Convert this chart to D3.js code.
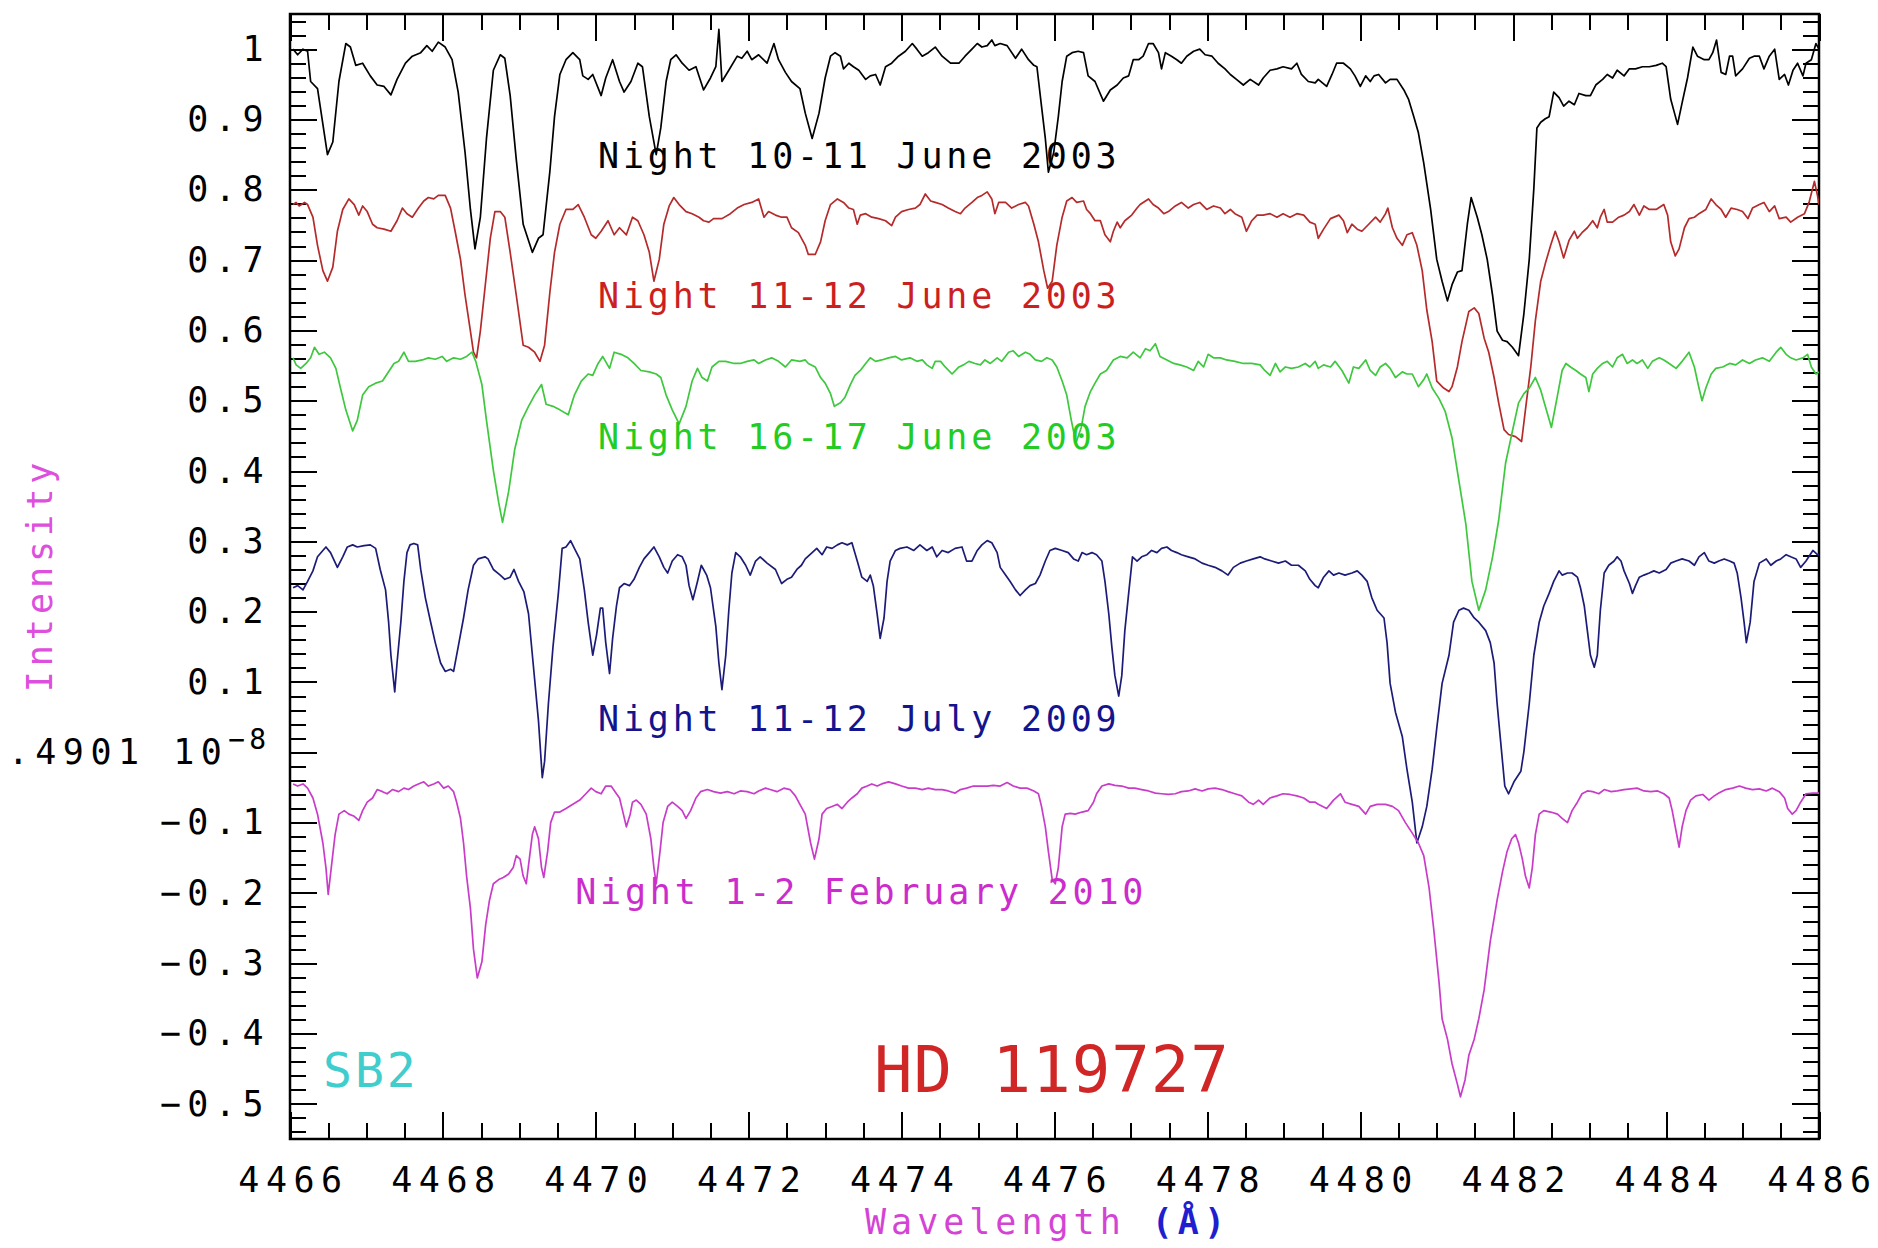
<!DOCTYPE html>
<html>
<head>
<meta charset="utf-8" />
<title>HD 119727</title>
<script src="https://d3js.org/d3.v7.min.js"></script>
<style>
  body { margin: 0; background: #fff; }
  svg { display: block; }
  .lbl { font-family: "DejaVu Sans Mono", monospace; }
  .axis line { stroke: #000; stroke-width: 2px; shape-rendering: crispEdges; }
  .axis path { display: none; }
</style>
</head>
<body>
<script>
// spectra: [wavelength (A), intensity]
var june1011 = [[4466.04,1.000],[4466.10,0.992],[4466.17,1.000],[4466.23,0.997],[4466.27,0.954],[4466.36,0.944],[4466.49,0.850],[4466.56,0.868],[4466.64,0.954],[4466.73,1.008],[4466.79,1.003],[4466.86,0.977],[4466.95,0.980],[4467.05,0.962],[4467.14,0.949],[4467.23,0.947],[4467.32,0.935],[4467.40,0.957],[4467.51,0.980],[4467.60,0.990],[4467.71,0.995],[4467.79,1.005],[4467.86,0.997],[4467.94,1.010],[4468.03,1.003],[4468.12,0.985],[4468.20,0.939],[4468.29,0.853],[4468.36,0.772],[4468.42,0.716],[4468.49,0.761],[4468.57,0.873],[4468.66,0.970],[4468.75,0.992],[4468.81,0.987],[4468.88,0.934],[4468.96,0.843],[4469.05,0.751],[4469.17,0.711],[4469.25,0.731],[4469.31,0.736],[4469.40,0.827],[4469.46,0.904],[4469.53,0.964],[4469.61,0.985],[4469.70,0.995],[4469.79,0.985],[4469.83,0.962],[4469.90,0.957],[4469.96,0.964],[4470.07,0.934],[4470.13,0.959],[4470.22,0.985],[4470.31,0.954],[4470.37,0.939],[4470.46,0.954],[4470.55,0.980],[4470.61,0.975],[4470.70,0.904],[4470.79,0.850],[4470.85,0.888],[4470.92,0.954],[4470.98,0.985],[4471.05,0.992],[4471.13,0.980],[4471.22,0.970],[4471.31,0.975],[4471.41,0.942],[4471.50,0.959],[4471.57,0.975],[4471.61,1.028],[4471.65,0.954],[4471.74,0.970],[4471.85,0.990],[4471.91,0.987],[4471.98,0.997],[4472.04,0.985],[4472.13,0.992],[4472.24,0.980],[4472.33,1.008],[4472.39,0.985],[4472.48,0.967],[4472.56,0.954],[4472.67,0.944],[4472.74,0.909],
  [4472.83,0.873],[4472.92,0.909],[4473.00,0.959],[4473.07,0.990],[4473.13,0.995],[4473.20,0.990],[4473.24,0.972],[4473.31,0.980],[4473.37,0.975],[4473.44,0.970],[4473.53,0.957],[4473.59,0.962],[4473.66,0.964],[4473.72,0.949],[4473.79,0.975],[4473.87,0.980],[4473.96,0.990],[4474.05,0.997],[4474.14,1.008],[4474.20,1.000],[4474.27,0.990],[4474.35,0.995],[4474.44,1.003],[4474.53,0.990],[4474.64,0.980],[4474.75,0.980],[4474.83,0.990],[4474.92,1.000],[4474.99,1.008],[4475.05,1.003],[4475.12,1.005],[4475.18,1.013],[4475.22,1.005],[4475.29,1.008],[4475.38,1.005],[4475.49,0.987],[4475.57,1.000],[4475.66,0.985],[4475.73,0.977],[4475.77,0.975],[4475.83,0.919],[4475.88,0.873],[4475.92,0.825],[4475.99,0.853],[4476.05,0.904],[4476.10,0.954],[4476.16,0.990],[4476.23,0.995],[4476.31,0.997],[4476.38,0.995],[4476.44,0.962],[4476.53,0.954],[4476.64,0.926],[4476.73,0.942],[4476.82,0.949],[4476.90,0.959],[4476.97,0.962],[4477.03,0.985],[4477.10,0.985],[4477.16,0.990],[4477.23,1.008],[4477.29,1.008],[4477.36,0.995],[4477.40,0.972],[4477.45,0.995],[4477.53,0.990],[4477.60,0.985],[4477.66,0.980],[4477.73,0.990],[4477.82,0.997],[4477.90,1.000],[4477.97,0.992],[4478.06,0.990],[4478.14,0.980],[4478.23,0.972],[4478.30,0.964],[4478.38,0.957],[4478.47,0.949],[4478.56,0.957],[4478.67,0.949],[4478.73,0.959],[4478.82,0.970],[4478.91,0.972],[4478.99,0.975],[4479.10,0.972],[4479.17,0.980],[4479.23,0.964],[4479.32,0.954],[4479.41,0.952],
  [4479.45,0.957],[4479.56,0.947],[4479.63,0.964],[4479.69,0.980],[4479.78,0.980],[4479.87,0.972],[4479.93,0.962],[4480.00,0.947],[4480.07,0.962],[4480.13,0.954],[4480.18,0.962],[4480.24,0.964],[4480.33,0.952],[4480.39,0.957],[4480.48,0.957],[4480.57,0.942],[4480.63,0.929],[4480.70,0.904],[4480.76,0.881],[4480.83,0.838],[4480.92,0.772],[4481.00,0.701],[4481.07,0.670],[4481.14,0.642],[4481.20,0.665],[4481.27,0.683],[4481.33,0.685],[4481.40,0.751],[4481.45,0.789],[4481.53,0.761],[4481.59,0.736],[4481.66,0.701],[4481.73,0.650],[4481.79,0.599],[4481.86,0.586],[4481.92,0.584],[4481.99,0.576],[4482.07,0.564],[4482.14,0.624],[4482.21,0.701],[4482.27,0.802],[4482.31,0.888],[4482.36,0.896],[4482.42,0.901],[4482.47,0.904],[4482.53,0.939],[4482.60,0.931],[4482.66,0.919],[4482.73,0.926],[4482.80,0.921],[4482.86,0.937],[4482.95,0.934],[4483.01,0.934],[4483.08,0.949],[4483.17,0.957],[4483.23,0.964],[4483.30,0.959],[4483.36,0.970],[4483.45,0.962],[4483.52,0.972],[4483.60,0.972],[4483.69,0.975],[4483.78,0.975],[4483.87,0.977],[4483.95,0.980],[4484.00,0.975],[4484.06,0.929],[4484.11,0.909],[4484.15,0.893],[4484.21,0.924],[4484.28,0.959],[4484.35,1.003],[4484.41,0.990],[4484.50,0.985],[4484.56,0.985],[4484.61,0.995],[4484.66,1.013],[4484.72,0.967],[4484.78,0.964],[4484.83,0.990],[4484.87,0.990],[4484.91,0.962],[4485.00,0.972],[4485.09,0.987],[4485.15,0.990],[4485.22,0.990],[4485.28,0.972],[4485.35,0.990],[4485.42,1.000],[4485.48,0.957],[4485.55,0.964],[4485.60,0.949],[4485.66,0.970],[4485.72,0.980],[4485.79,0.962],[4485.83,0.980],[4485.90,0.985],[4485.96,1.008],[4486.00,1.000]];

var june1112 = [[4466.04,0.779],[4466.08,0.782],[4466.12,0.777],[4466.19,0.782],[4466.23,0.779],[4466.30,0.761],[4466.36,0.721],[4466.43,0.685],[4466.49,0.670],[4466.56,0.690],[4466.62,0.741],[4466.69,0.772],[4466.77,0.787],[4466.84,0.779],[4466.90,0.764],[4466.95,0.777],[4467.01,0.769],[4467.08,0.751],[4467.14,0.746],[4467.23,0.744],[4467.32,0.741],[4467.40,0.756],[4467.47,0.774],[4467.53,0.766],[4467.60,0.761],[4467.68,0.774],[4467.75,0.784],[4467.81,0.789],[4467.88,0.787],[4467.94,0.792],[4468.03,0.792],[4468.10,0.774],[4468.16,0.741],[4468.23,0.701],[4468.29,0.650],[4468.36,0.599],[4468.40,0.569],[4468.44,0.561],[4468.49,0.599],[4468.55,0.660],[4468.62,0.731],[4468.68,0.769],[4468.75,0.769],[4468.81,0.761],[4468.88,0.711],[4468.96,0.650],[4469.05,0.579],[4469.12,0.576],[4469.20,0.569],[4469.27,0.556],[4469.33,0.579],[4469.40,0.655],[4469.46,0.711],[4469.53,0.751],[4469.61,0.772],[4469.70,0.772],[4469.77,0.779],[4469.85,0.761],[4469.94,0.736],[4470.00,0.731],[4470.07,0.741],[4470.16,0.756],[4470.24,0.736],[4470.31,0.746],[4470.40,0.736],[4470.48,0.761],[4470.55,0.756],[4470.63,0.736],[4470.70,0.711],[4470.76,0.670],[4470.83,0.701],[4470.89,0.751],[4470.96,0.777],[4471.02,0.789],[4471.09,0.779],[4471.18,0.769],[4471.26,0.766],[4471.35,0.761],[4471.41,0.756],[4471.48,0.754],[4471.54,0.759],[4471.65,0.759],[4471.76,0.766],[4471.85,0.774],[4471.94,0.779],[4472.04,0.782],[4472.13,0.787],[4472.20,0.761],[4472.26,0.769],[4472.35,0.764],[4472.43,0.761],[4472.50,0.761],[4472.56,0.746],[4472.65,0.739],[4472.74,0.721],
  [4472.78,0.708],[4472.87,0.708],[4472.94,0.726],[4473.00,0.756],[4473.07,0.779],[4473.16,0.787],[4473.24,0.782],[4473.31,0.774],[4473.37,0.772],[4473.42,0.751],[4473.46,0.764],[4473.53,0.766],[4473.61,0.761],[4473.70,0.759],[4473.79,0.756],[4473.87,0.749],[4473.92,0.761],[4474.00,0.769],[4474.09,0.772],[4474.18,0.774],[4474.24,0.779],[4474.31,0.794],[4474.38,0.784],[4474.44,0.782],[4474.53,0.779],[4474.61,0.774],[4474.70,0.769],[4474.77,0.766],[4474.83,0.774],[4474.92,0.782],[4474.99,0.789],[4475.05,0.792],[4475.12,0.797],[4475.18,0.787],[4475.22,0.766],[4475.27,0.782],[4475.36,0.782],[4475.44,0.774],[4475.53,0.779],[4475.62,0.782],[4475.66,0.777],[4475.73,0.751],[4475.79,0.726],[4475.86,0.685],[4475.91,0.660],[4475.97,0.670],[4476.03,0.721],[4476.10,0.761],[4476.16,0.784],[4476.23,0.789],[4476.29,0.782],[4476.38,0.784],[4476.42,0.772],[4476.47,0.766],[4476.53,0.756],[4476.60,0.756],[4476.66,0.736],[4476.73,0.726],[4476.77,0.741],[4476.82,0.754],[4476.86,0.746],[4476.92,0.756],[4477.01,0.764],[4477.08,0.774],[4477.12,0.779],[4477.16,0.782],[4477.23,0.787],[4477.29,0.779],[4477.36,0.774],[4477.43,0.766],[4477.49,0.769],[4477.58,0.777],[4477.66,0.782],[4477.75,0.774],[4477.82,0.779],[4477.90,0.782],[4477.99,0.772],[4478.08,0.777],[4478.17,0.774],[4478.23,0.766],[4478.30,0.772],[4478.36,0.766],[4478.45,0.761],[4478.51,0.741],[4478.58,0.756],[4478.65,0.764],[4478.73,0.764],[4478.82,0.766],[4478.91,0.761],[4478.99,0.766],[4479.08,0.761],[4479.17,0.766],[4479.26,0.764],[4479.34,0.754],[4479.41,0.751],
  [4479.45,0.731],[4479.52,0.744],[4479.61,0.759],[4479.72,0.764],[4479.78,0.756],[4479.83,0.739],[4479.89,0.751],[4479.96,0.744],[4480.02,0.741],[4480.11,0.751],[4480.20,0.761],[4480.26,0.754],[4480.33,0.766],[4480.36,0.774],[4480.42,0.746],[4480.48,0.731],[4480.55,0.721],[4480.61,0.736],[4480.68,0.739],[4480.74,0.721],[4480.81,0.685],[4480.87,0.629],[4480.94,0.584],[4481.00,0.528],[4481.09,0.518],[4481.16,0.513],[4481.20,0.520],[4481.27,0.548],[4481.33,0.584],[4481.42,0.627],[4481.49,0.632],[4481.55,0.624],[4481.62,0.589],[4481.68,0.569],[4481.75,0.533],[4481.81,0.497],[4481.88,0.459],[4481.94,0.452],[4482.03,0.449],[4482.11,0.442],[4482.16,0.487],[4482.23,0.548],[4482.29,0.614],[4482.36,0.670],[4482.42,0.695],[4482.49,0.721],[4482.55,0.741],[4482.60,0.726],[4482.66,0.703],[4482.73,0.728],[4482.80,0.741],[4482.84,0.731],[4482.90,0.739],[4482.97,0.746],[4483.04,0.756],[4483.10,0.746],[4483.14,0.761],[4483.19,0.772],[4483.23,0.754],[4483.30,0.754],[4483.38,0.761],[4483.45,0.764],[4483.52,0.769],[4483.58,0.779],[4483.65,0.764],[4483.71,0.777],[4483.78,0.772],[4483.87,0.772],[4483.97,0.779],[4484.02,0.764],[4484.06,0.726],[4484.12,0.706],[4484.17,0.716],[4484.24,0.746],[4484.30,0.759],[4484.37,0.761],[4484.43,0.766],[4484.52,0.772],[4484.59,0.787],[4484.65,0.779],[4484.72,0.772],[4484.78,0.761],[4484.85,0.774],[4484.93,0.772],[4485.00,0.769],[4485.07,0.759],[4485.13,0.774],[4485.22,0.779],[4485.28,0.782],[4485.35,0.769],[4485.42,0.777],[4485.48,0.759],[4485.57,0.761],[4485.63,0.754],[4485.72,0.761],[4485.81,0.766],[4485.87,0.782],[4485.94,0.812],[4485.98,0.792],[4486.00,0.779]];

var june1617 = [[4466.04,0.561],[4466.08,0.551],[4466.14,0.546],[4466.21,0.553],[4466.27,0.561],[4466.32,0.576],[4466.38,0.566],[4466.45,0.569],[4466.53,0.561],[4466.60,0.546],[4466.66,0.518],[4466.73,0.487],[4466.82,0.457],[4466.88,0.472],[4466.95,0.508],[4467.03,0.520],[4467.12,0.525],[4467.21,0.528],[4467.27,0.538],[4467.36,0.553],[4467.42,0.556],[4467.49,0.569],[4467.55,0.556],[4467.64,0.556],[4467.73,0.558],[4467.81,0.561],[4467.90,0.559],[4467.99,0.563],[4468.05,0.556],[4468.14,0.561],[4468.23,0.559],[4468.31,0.563],[4468.38,0.569],[4468.43,0.556],[4468.51,0.523],[4468.57,0.472],[4468.66,0.401],[4468.73,0.355],[4468.78,0.327],[4468.86,0.371],[4468.94,0.431],[4469.03,0.472],[4469.12,0.492],[4469.20,0.508],[4469.29,0.523],[4469.35,0.495],[4469.44,0.492],[4469.53,0.487],[4469.64,0.480],[4469.72,0.508],[4469.81,0.528],[4469.90,0.538],[4469.96,0.536],[4470.03,0.553],[4470.09,0.563],[4470.18,0.546],[4470.24,0.569],[4470.33,0.566],[4470.42,0.561],[4470.50,0.553],[4470.59,0.543],[4470.70,0.541],[4470.79,0.538],[4470.85,0.533],[4470.92,0.508],[4471.00,0.487],[4471.09,0.467],[4471.18,0.492],[4471.26,0.528],[4471.33,0.546],[4471.39,0.533],[4471.46,0.528],[4471.52,0.548],[4471.61,0.556],[4471.70,0.556],[4471.81,0.553],[4471.89,0.553],[4471.98,0.556],[4472.07,0.558],[4472.13,0.553],[4472.22,0.558],[4472.30,0.561],[4472.39,0.556],[4472.48,0.548],[4472.56,0.558],[4472.67,0.556],[4472.74,0.558],
  [4472.78,0.553],[4472.87,0.548],[4472.94,0.533],[4473.00,0.525],[4473.07,0.510],[4473.12,0.492],[4473.20,0.497],[4473.26,0.505],[4473.33,0.523],[4473.39,0.536],[4473.46,0.543],[4473.53,0.553],[4473.59,0.561],[4473.66,0.556],[4473.74,0.558],[4473.83,0.561],[4473.92,0.563],[4474.00,0.558],[4474.11,0.561],[4474.20,0.556],[4474.27,0.558],[4474.33,0.551],[4474.40,0.546],[4474.44,0.556],[4474.51,0.556],[4474.57,0.548],[4474.66,0.538],[4474.75,0.548],[4474.81,0.551],[4474.88,0.556],[4474.96,0.553],[4475.03,0.551],[4475.09,0.558],[4475.16,0.553],[4475.25,0.561],[4475.31,0.556],[4475.40,0.569],[4475.46,0.571],[4475.53,0.563],[4475.62,0.569],[4475.68,0.566],[4475.75,0.558],[4475.83,0.556],[4475.90,0.561],[4475.97,0.558],[4476.03,0.548],[4476.10,0.528],[4476.16,0.508],[4476.22,0.472],[4476.28,0.440],[4476.35,0.462],[4476.40,0.492],[4476.47,0.513],[4476.53,0.525],[4476.60,0.538],[4476.68,0.543],[4476.77,0.558],[4476.86,0.563],[4476.95,0.561],[4477.03,0.569],[4477.12,0.561],[4477.19,0.574],[4477.25,0.571],[4477.32,0.581],[4477.38,0.563],[4477.47,0.558],[4477.56,0.553],[4477.64,0.551],[4477.73,0.548],[4477.82,0.543],[4477.88,0.556],[4477.95,0.548],[4478.01,0.566],[4478.08,0.561],[4478.17,0.561],[4478.25,0.558],[4478.36,0.556],[4478.47,0.553],[4478.58,0.553],[4478.69,0.551],[4478.75,0.543],[4478.82,0.536],[4478.89,0.553],[4478.95,0.541],[4479.02,0.548],[4479.10,0.546],[4479.19,0.548],[4479.28,0.553],[4479.34,0.548],[4479.41,0.556],
  [4479.45,0.546],[4479.52,0.551],[4479.61,0.548],[4479.67,0.556],[4479.76,0.543],[4479.85,0.525],[4479.91,0.548],[4479.98,0.546],[4480.07,0.558],[4480.13,0.543],[4480.20,0.536],[4480.26,0.548],[4480.33,0.553],[4480.39,0.546],[4480.46,0.533],[4480.55,0.541],[4480.61,0.538],[4480.68,0.538],[4480.76,0.520],[4480.83,0.530],[4480.87,0.538],[4480.94,0.518],[4481.03,0.503],[4481.11,0.485],[4481.20,0.447],[4481.29,0.386],[4481.38,0.325],[4481.46,0.243],[4481.55,0.202],[4481.64,0.231],[4481.73,0.278],[4481.81,0.330],[4481.90,0.411],[4481.99,0.457],[4482.07,0.497],[4482.14,0.510],[4482.21,0.518],[4482.29,0.533],[4482.36,0.515],[4482.42,0.492],[4482.50,0.462],[4482.58,0.508],[4482.64,0.543],[4482.69,0.553],[4482.75,0.548],[4482.82,0.543],[4482.88,0.538],[4482.95,0.533],[4482.99,0.513],[4483.04,0.538],[4483.10,0.546],[4483.17,0.553],[4483.23,0.556],[4483.30,0.548],[4483.36,0.561],[4483.43,0.566],[4483.49,0.553],[4483.56,0.558],[4483.62,0.553],[4483.69,0.558],[4483.76,0.546],[4483.82,0.556],[4483.91,0.561],[4483.97,0.558],[4484.04,0.553],[4484.13,0.546],[4484.21,0.556],[4484.30,0.569],[4484.37,0.548],[4484.43,0.518],[4484.47,0.500],[4484.52,0.518],[4484.59,0.538],[4484.65,0.546],[4484.74,0.548],[4484.83,0.553],[4484.91,0.551],[4485.00,0.558],[4485.09,0.553],[4485.17,0.558],[4485.26,0.561],[4485.35,0.556],[4485.44,0.569],[4485.50,0.576],[4485.57,0.566],[4485.63,0.561],[4485.70,0.558],[4485.79,0.561],[4485.85,0.566],[4485.90,0.548],[4485.96,0.538],[4486.00,0.541]];

var july1112 = [[4466.04,0.234],[4466.10,0.237],[4466.17,0.231],[4466.23,0.243],[4466.30,0.258],[4466.36,0.278],[4466.43,0.287],[4466.47,0.292],[4466.53,0.284],[4466.62,0.263],[4466.69,0.278],[4466.75,0.292],[4466.82,0.295],[4466.88,0.292],[4466.97,0.294],[4467.05,0.295],[4467.12,0.290],[4467.18,0.260],[4467.25,0.231],[4467.29,0.185],[4467.32,0.138],[4467.37,0.086],[4467.40,0.127],[4467.45,0.185],[4467.49,0.243],[4467.53,0.284],[4467.57,0.295],[4467.62,0.297],[4467.67,0.295],[4467.71,0.260],[4467.77,0.220],[4467.84,0.185],[4467.90,0.156],[4467.97,0.127],[4468.03,0.115],[4468.10,0.118],[4468.14,0.115],[4468.20,0.150],[4468.27,0.191],[4468.33,0.231],[4468.40,0.266],[4468.46,0.275],[4468.55,0.278],[4468.59,0.275],[4468.66,0.260],[4468.75,0.252],[4468.81,0.246],[4468.88,0.249],[4468.93,0.260],[4468.99,0.243],[4469.06,0.228],[4469.12,0.197],[4469.18,0.127],[4469.25,0.045],[4469.30,-0.036],[4469.33,-0.013],[4469.38,0.069],[4469.44,0.150],[4469.51,0.226],[4469.56,0.290],[4469.61,0.292],[4469.67,0.301],[4469.72,0.290],[4469.79,0.275],[4469.85,0.231],[4469.90,0.185],[4469.96,0.138],[4470.01,0.167],[4470.06,0.205],[4470.09,0.205],[4470.13,0.156],[4470.18,0.112],[4470.22,0.162],[4470.27,0.208],[4470.31,0.234],[4470.37,0.240],[4470.44,0.237],[4470.50,0.246],[4470.57,0.263],[4470.63,0.275],[4470.70,0.284],[4470.76,0.292],[4470.83,0.278],[4470.89,0.263],[4470.94,0.255],[4471.00,0.272],[4471.07,0.281],[4471.13,0.278],[4471.18,0.266],[4471.22,0.237],[4471.27,0.217],[4471.33,0.243],[4471.38,0.266],[4471.45,0.252],[4471.50,0.234],[4471.57,0.179],[4471.61,0.127],[4471.65,0.089],[4471.70,0.138],[4471.74,0.202],[4471.78,0.255],[4471.83,0.284],[4471.89,0.278],[4471.96,0.266],[4472.02,0.252],[4472.09,0.272],[4472.15,0.278],[4472.24,0.269],[4472.35,0.260],[4472.43,0.240],[4472.50,0.246],[4472.56,0.249],[4472.63,0.260],[4472.69,0.266],[4472.74,0.275],
  [4472.83,0.284],[4472.89,0.290],[4472.96,0.281],[4473.02,0.292],[4473.09,0.290],[4473.16,0.295],[4473.22,0.298],[4473.29,0.295],[4473.35,0.298],[4473.42,0.272],[4473.48,0.249],[4473.55,0.243],[4473.59,0.252],[4473.63,0.237],[4473.68,0.197],[4473.72,0.162],[4473.77,0.191],[4473.81,0.243],[4473.85,0.272],[4473.92,0.287],[4473.98,0.290],[4474.07,0.292],[4474.16,0.287],[4474.24,0.295],[4474.33,0.287],[4474.40,0.292],[4474.46,0.278],[4474.53,0.287],[4474.61,0.284],[4474.70,0.290],[4474.79,0.292],[4474.85,0.272],[4474.92,0.272],[4474.99,0.287],[4475.05,0.295],[4475.12,0.301],[4475.18,0.298],[4475.25,0.284],[4475.29,0.263],[4475.36,0.252],[4475.42,0.243],[4475.49,0.231],[4475.55,0.223],[4475.62,0.231],[4475.68,0.237],[4475.75,0.240],[4475.81,0.252],[4475.88,0.272],[4475.94,0.287],[4476.01,0.290],[4476.10,0.287],[4476.18,0.284],[4476.25,0.275],[4476.31,0.272],[4476.36,0.284],[4476.42,0.281],[4476.49,0.284],[4476.55,0.281],[4476.62,0.272],[4476.66,0.243],[4476.71,0.197],[4476.75,0.150],[4476.79,0.109],[4476.84,0.080],[4476.88,0.109],[4476.92,0.173],[4476.97,0.226],[4477.02,0.278],[4477.08,0.272],[4477.14,0.278],[4477.21,0.281],[4477.27,0.287],[4477.34,0.284],[4477.40,0.290],[4477.47,0.292],[4477.53,0.287],[4477.60,0.284],[4477.66,0.281],[4477.75,0.278],[4477.84,0.275],[4477.93,0.269],[4478.01,0.266],[4478.10,0.263],[4478.19,0.258],[4478.27,0.252],[4478.34,0.263],[4478.43,0.269],[4478.51,0.272],[4478.60,0.275],[4478.69,0.278],[4478.75,0.275],[4478.84,0.272],[4478.93,0.269],[4479.02,0.272],[4479.10,0.266],[4479.19,0.266],[4479.28,0.258],[4479.34,0.246],[4479.41,0.237],
  [4479.45,0.234],[4479.52,0.249],[4479.59,0.258],[4479.65,0.252],[4479.72,0.255],[4479.80,0.252],[4479.89,0.255],[4479.96,0.258],[4480.02,0.252],[4480.09,0.243],[4480.15,0.220],[4480.22,0.202],[4480.31,0.191],[4480.35,0.156],[4480.39,0.098],[4480.46,0.057],[4480.55,0.022],[4480.61,-0.024],[4480.68,-0.071],[4480.74,-0.129],[4480.81,-0.106],[4480.87,-0.077],[4480.94,-0.024],[4481.00,0.034],[4481.07,0.098],[4481.16,0.138],[4481.22,0.185],[4481.29,0.202],[4481.35,0.205],[4481.42,0.202],[4481.49,0.191],[4481.55,0.185],[4481.64,0.173],[4481.70,0.156],[4481.75,0.127],[4481.79,0.069],[4481.83,0.022],[4481.89,-0.048],[4481.94,-0.059],[4482.01,-0.042],[4482.10,-0.027],[4482.14,0.001],[4482.21,0.069],[4482.27,0.138],[4482.34,0.185],[4482.40,0.208],[4482.47,0.226],[4482.53,0.243],[4482.60,0.258],[4482.64,0.252],[4482.71,0.255],[4482.77,0.255],[4482.84,0.249],[4482.88,0.234],[4482.93,0.208],[4482.97,0.173],[4483.01,0.138],[4483.06,0.121],[4483.10,0.138],[4483.14,0.202],[4483.19,0.255],[4483.25,0.266],[4483.32,0.272],[4483.36,0.278],[4483.41,0.272],[4483.45,0.258],[4483.52,0.240],[4483.56,0.226],[4483.60,0.237],[4483.65,0.249],[4483.71,0.252],[4483.78,0.255],[4483.84,0.258],[4483.91,0.255],[4484.00,0.260],[4484.06,0.269],[4484.13,0.272],[4484.21,0.275],[4484.30,0.272],[4484.37,0.266],[4484.43,0.278],[4484.50,0.284],[4484.56,0.272],[4484.63,0.269],[4484.69,0.272],[4484.76,0.275],[4484.83,0.272],[4484.89,0.269],[4484.93,0.255],[4484.98,0.220],[4485.02,0.185],[4485.05,0.156],[4485.10,0.185],[4485.15,0.243],[4485.22,0.269],[4485.31,0.275],[4485.37,0.266],[4485.44,0.272],[4485.50,0.275],[4485.57,0.281],[4485.63,0.278],[4485.70,0.275],[4485.76,0.263],[4485.83,0.272],[4485.92,0.287],[4485.98,0.281],[4486.00,0.281]];

var feb0102 = [[4466.04,-0.045],[4466.10,-0.048],[4466.17,-0.045],[4466.23,-0.051],[4466.30,-0.065],[4466.36,-0.088],[4466.43,-0.129],[4466.47,-0.164],[4466.50,-0.202],[4466.54,-0.164],[4466.59,-0.117],[4466.64,-0.088],[4466.71,-0.083],[4466.77,-0.088],[4466.84,-0.091],[4466.90,-0.097],[4466.95,-0.083],[4467.01,-0.071],[4467.08,-0.065],[4467.14,-0.053],[4467.21,-0.056],[4467.27,-0.059],[4467.34,-0.053],[4467.42,-0.056],[4467.49,-0.051],[4467.55,-0.053],[4467.62,-0.048],[4467.68,-0.045],[4467.75,-0.042],[4467.81,-0.048],[4467.88,-0.045],[4467.94,-0.042],[4468.01,-0.051],[4468.07,-0.048],[4468.14,-0.056],[4468.18,-0.071],[4468.23,-0.094],[4468.27,-0.129],[4468.31,-0.176],[4468.36,-0.222],[4468.40,-0.280],[4468.45,-0.321],[4468.51,-0.298],[4468.56,-0.245],[4468.61,-0.210],[4468.66,-0.187],[4468.73,-0.181],[4468.79,-0.178],[4468.86,-0.173],[4468.92,-0.164],[4468.96,-0.147],[4469.01,-0.152],[4469.05,-0.176],[4469.09,-0.187],[4469.13,-0.152],[4469.17,-0.117],[4469.20,-0.106],[4469.25,-0.123],[4469.29,-0.164],[4469.32,-0.178],[4469.37,-0.141],[4469.41,-0.100],[4469.46,-0.085],[4469.53,-0.085],[4469.61,-0.080],[4469.70,-0.074],[4469.79,-0.068],[4469.87,-0.059],[4469.94,-0.051],[4470.00,-0.056],[4470.07,-0.059],[4470.13,-0.048],[4470.20,-0.048],[4470.27,-0.059],[4470.31,-0.065],[4470.35,-0.083],[4470.40,-0.106],[4470.45,-0.088],[4470.48,-0.071],[4470.53,-0.068],[4470.59,-0.074],[4470.66,-0.088],[4470.72,-0.123],[4470.76,-0.164],[4470.79,-0.187],[4470.84,-0.141],[4470.88,-0.100],[4470.94,-0.077],[4471.00,-0.071],[4471.07,-0.077],[4471.13,-0.083],[4471.18,-0.094],[4471.24,-0.083],[4471.31,-0.065],[4471.37,-0.056],[4471.46,-0.053],[4471.54,-0.056],[4471.63,-0.058],[4471.72,-0.056],[4471.81,-0.059],[4471.89,-0.055],[4471.98,-0.056],[4472.07,-0.059],[4472.13,-0.055],[4472.22,-0.051],[4472.28,-0.053],[4472.37,-0.056],[4472.46,-0.051],[4472.54,-0.053],[4472.61,-0.062],[4472.67,-0.074],[4472.74,-0.088],
  [4472.81,-0.129],[4472.86,-0.152],[4472.92,-0.123],[4472.96,-0.088],[4473.02,-0.080],[4473.09,-0.077],[4473.16,-0.074],[4473.22,-0.080],[4473.29,-0.071],[4473.35,-0.065],[4473.42,-0.059],[4473.48,-0.051],[4473.55,-0.048],[4473.61,-0.045],[4473.68,-0.048],[4473.74,-0.045],[4473.83,-0.042],[4473.92,-0.045],[4474.00,-0.048],[4474.09,-0.051],[4474.18,-0.051],[4474.27,-0.053],[4474.35,-0.051],[4474.44,-0.053],[4474.53,-0.053],[4474.61,-0.055],[4474.70,-0.058],[4474.77,-0.053],[4474.85,-0.051],[4474.94,-0.048],[4475.03,-0.048],[4475.12,-0.048],[4475.20,-0.047],[4475.29,-0.048],[4475.38,-0.043],[4475.46,-0.048],[4475.55,-0.051],[4475.64,-0.051],[4475.73,-0.055],[4475.79,-0.059],[4475.83,-0.077],[4475.88,-0.106],[4475.92,-0.141],[4475.97,-0.181],[4476.01,-0.187],[4476.05,-0.164],[4476.10,-0.106],[4476.14,-0.088],[4476.21,-0.087],[4476.27,-0.088],[4476.36,-0.085],[4476.44,-0.083],[4476.51,-0.071],[4476.55,-0.059],[4476.62,-0.048],[4476.71,-0.045],[4476.79,-0.047],[4476.88,-0.048],[4476.97,-0.051],[4477.05,-0.051],[4477.14,-0.053],[4477.23,-0.055],[4477.32,-0.058],[4477.40,-0.059],[4477.49,-0.060],[4477.58,-0.059],[4477.66,-0.056],[4477.75,-0.055],[4477.84,-0.052],[4477.93,-0.055],[4478.01,-0.052],[4478.10,-0.051],[4478.19,-0.053],[4478.27,-0.056],[4478.36,-0.059],[4478.45,-0.062],[4478.54,-0.071],[4478.60,-0.074],[4478.67,-0.068],[4478.73,-0.074],[4478.82,-0.065],[4478.91,-0.062],[4478.99,-0.059],[4479.08,-0.060],[4479.17,-0.062],[4479.26,-0.065],[4479.34,-0.071],[4479.41,-0.071],
  [4479.45,-0.074],[4479.56,-0.080],[4479.65,-0.068],[4479.74,-0.059],[4479.80,-0.071],[4479.89,-0.074],[4479.98,-0.077],[4480.07,-0.088],[4480.13,-0.077],[4480.22,-0.074],[4480.33,-0.074],[4480.42,-0.077],[4480.50,-0.083],[4480.59,-0.100],[4480.68,-0.115],[4480.76,-0.129],[4480.83,-0.147],[4480.90,-0.193],[4480.96,-0.251],[4481.03,-0.327],[4481.07,-0.379],[4481.14,-0.408],[4481.20,-0.443],[4481.27,-0.472],[4481.31,-0.490],[4481.37,-0.466],[4481.42,-0.431],[4481.49,-0.408],[4481.55,-0.379],[4481.62,-0.338],[4481.70,-0.269],[4481.79,-0.210],[4481.86,-0.170],[4481.92,-0.141],[4481.98,-0.123],[4482.03,-0.117],[4482.07,-0.129],[4482.12,-0.152],[4482.16,-0.176],[4482.21,-0.193],[4482.25,-0.164],[4482.29,-0.117],[4482.34,-0.088],[4482.40,-0.083],[4482.49,-0.085],[4482.58,-0.088],[4482.64,-0.094],[4482.71,-0.100],[4482.77,-0.083],[4482.84,-0.071],[4482.90,-0.059],[4482.97,-0.055],[4483.04,-0.056],[4483.12,-0.059],[4483.19,-0.053],[4483.28,-0.056],[4483.36,-0.055],[4483.45,-0.053],[4483.54,-0.052],[4483.62,-0.051],[4483.71,-0.055],[4483.80,-0.056],[4483.89,-0.055],[4483.97,-0.059],[4484.04,-0.065],[4484.08,-0.083],[4484.13,-0.112],[4484.17,-0.135],[4484.21,-0.106],[4484.26,-0.083],[4484.32,-0.068],[4484.39,-0.062],[4484.48,-0.060],[4484.56,-0.068],[4484.63,-0.062],[4484.69,-0.058],[4484.78,-0.053],[4484.87,-0.051],[4484.96,-0.048],[4485.04,-0.051],[4485.13,-0.053],[4485.22,-0.052],[4485.31,-0.055],[4485.39,-0.051],[4485.48,-0.056],[4485.55,-0.065],[4485.59,-0.080],[4485.65,-0.088],[4485.70,-0.083],[4485.76,-0.071],[4485.83,-0.059],[4485.92,-0.058],[4486.00,-0.058]];

var nightLabels = ["Night 10-11 June 2003", "Night 11-12 June 2003", "Night 16-17 June 2003", "Night 11-12 July 2009", "Night 1-2 February 2010"];
var xTicks = [4466, 4468, 4470, 4472, 4474, 4476, 4478, 4480, 4482, 4484, 4486];
var yTicks = [-0.5, -0.4, -0.3, -0.2, -0.1, 0, 0.1, 0.2, 0.3, 0.4, 0.5, 0.6, 0.7, 0.8, 0.9, 1];
var yTickLabels = ["\u22120.5", "\u22120.4", "\u22120.3", "\u22120.2", "\u22120.1", "-1.4901 10", "0.1", "0.2", "0.3", "0.4", "0.5", "0.6", "0.7", "0.8", "0.9", "1"];

// set the dimensions and margins of the graph
var margin = {top: 14, right: 59, bottom: 109, left: 290},
    width = 1878 - margin.left - margin.right,
    height = 1248 - margin.top - margin.bottom;

var root = d3.select("body").append("svg")
    .attr("width", 1878)
    .attr("height", 1248);

var svg = root.append("g")
    .attr("transform", "translate(" + margin.left + "," + margin.top + ")");

var x = d3.scaleLinear().domain([4466, 4486]).range([0, width]);
var y = d3.scaleLinear().domain([-0.55, 1.05]).range([height, 0]);

var xMinor = d3.range(4466, 4486.01, 0.5);
var yMinor = d3.range(-54, 105, 2).map(function(d) { return d / 100; });

// minor ticks, all four sides, pointing inwards
function minorAxes() {
  svg.append("g").attr("class", "axis").attr("transform", "translate(0," + height + ")")
    .call(d3.axisBottom(x).tickValues(xMinor).tickSize(-16).tickSizeOuter(0).tickFormat(""));
  svg.append("g").attr("class", "axis")
    .call(d3.axisTop(x).tickValues(xMinor).tickSize(-16).tickSizeOuter(0).tickFormat(""));
  svg.append("g").attr("class", "axis")
    .call(d3.axisLeft(y).tickValues(yMinor).tickSize(-16).tickSizeOuter(0).tickFormat(""));
  svg.append("g").attr("class", "axis").attr("transform", "translate(" + width + ",0)")
    .call(d3.axisRight(y).tickValues(yMinor).tickSize(-16).tickSizeOuter(0).tickFormat(""));
}
minorAxes();

// major ticks
var xAxis = svg.append("g").attr("class", "axis").attr("transform", "translate(0," + height + ")")
  .call(d3.axisBottom(x).tickValues(xTicks).tickSize(-27).tickSizeOuter(0).tickPadding(28).tickFormat(d3.format("d")));
svg.append("g").attr("class", "axis")
  .call(d3.axisTop(x).tickValues(xTicks).tickSize(-27).tickSizeOuter(0).tickFormat(""));
var yAxis = svg.append("g").attr("class", "axis")
  .call(d3.axisLeft(y).tickValues(yTicks).tickSize(-27).tickSizeOuter(0).tickPadding(20)
    .tickFormat(function(d, i) { return yTickLabels[i]; }));
svg.append("g").attr("class", "axis").attr("transform", "translate(" + width + ",0)")
  .call(d3.axisRight(y).tickValues(yTicks).tickSize(-27).tickSizeOuter(0).tickFormat(""));

svg.selectAll(".axis text")
  .attr("class", "lbl")
  .attr("font-family", "DejaVu Sans Mono")
  .attr("font-size", 35)
  .attr("letter-spacing", "6.5px")
  .attr("fill", "#000");
xAxis.selectAll("text").attr("dx", "3px");

// the zero tick carries IDL's rounding residue
yAxis.selectAll(".tick text").filter(function(d) { return d === 0; })
  .append("tspan")
    .attr("font-size", 28)
    .attr("dy", "-0.55em")
    .attr("letter-spacing", "4px")
    .text("\u22128");

// frame
svg.append("rect")
  .attr("width", width)
  .attr("height", height)
  .attr("fill", "none")
  .attr("stroke", "#000")
  .attr("stroke-width", 2.5);

svg.append("clipPath").attr("id", "plotclip")
  .append("rect").attr("width", width).attr("height", height);

var series = [
  {data: june1011, line: "#000000", text: "#000000", lx: 4470.03, ly: 168},
  {data: june1112, line: "#b52a2a", text: "#cc1f1f", lx: 4470.03, ly: 308},
  {data: june1617, line: "#3ec83e", text: "#22cc22", lx: 4470.03, ly: 449},
  {data: july1112, line: "#1c1c78", text: "#14148f", lx: 4470.03, ly: 731},
  {data: feb0102,  line: "#c93cc9", text: "#cc2ccc", lx: 4469.73, ly: 904}
];

var line = d3.line()
  .x(function(d) { return x(d[0]); })
  .y(function(d) { return y(d[1]); });

var plot = svg.append("g").attr("clip-path", "url(#plotclip)");
series.forEach(function(s) {
  plot.append("path")
    .datum(s.data)
    .attr("fill", "none")
    .attr("stroke", s.line)
    .attr("stroke-width", 1.7)
    .attr("stroke-linejoin", "round")
    .attr("d", line);
});

series.forEach(function(s, i) {
  root.append("text")
    .attr("class", "lbl")
    .attr("x", margin.left + x(s.lx))
    .attr("y", s.ly)
    .attr("font-size", 35)
    .attr("letter-spacing", "3.8px")
    .attr("fill", s.text)
    .text(nightLabels[i]);
});

// axis titles
root.append("text")
  .attr("class", "lbl")
  .attr("transform", "translate(52,575) rotate(-90)")
  .attr("text-anchor", "middle")
  .attr("font-size", 35)
  .attr("letter-spacing", "5px")
  .attr("fill", "#dd4fdd")
  .text("Intensity");

var xt = root.append("text")
  .attr("class", "lbl")
  .attr("x", 865)
  .attr("y", 1234)
  .attr("font-size", 35)
  .attr("letter-spacing", "5px");
xt.append("tspan").attr("fill", "#d444d4").text("Wavelength ");
xt.append("tspan").attr("fill", "#1f1fd0").attr("font-weight", "bold").text("(\u00C5)");

// annotations
root.append("text")
  .attr("class", "lbl")
  .attr("x", 323)
  .attr("y", 1087)
  .attr("font-size", 48)
  .attr("letter-spacing", "3px")
  .attr("fill", "#3fcdcd")
  .text("SB2");

root.append("text")
  .attr("class", "lbl")
  .attr("x", 874)
  .attr("y", 1092)
  .attr("font-size", 64)
  .attr("letter-spacing", "1px")
  .attr("fill", "#d02626")
  .text("HD 119727");
</script>
</body>
</html>
